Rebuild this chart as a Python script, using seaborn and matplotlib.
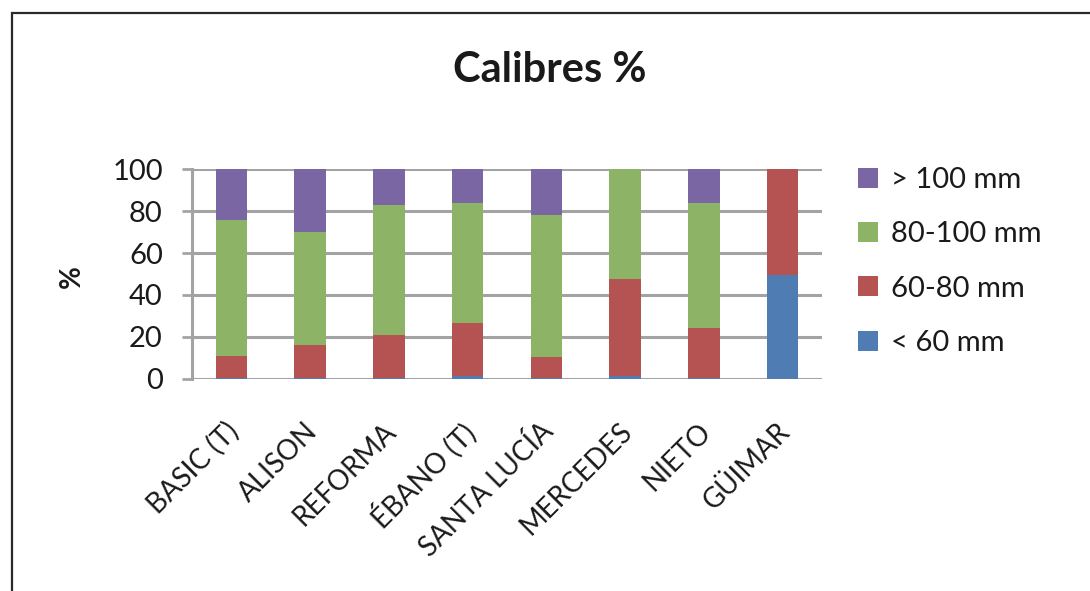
import matplotlib
matplotlib.use("Agg")
import matplotlib.pyplot as plt
import matplotlib.transforms as mtransforms
import seaborn as sns
import numpy as np
import pandas as pd
from matplotlib.patches import Rectangle, Patch

categories = ["BASIC (T)", "ALISON", "REFORMA", "ÉBANO (T)", "SANTA LUCÍA", "MERCEDES", "NIETO", "GÜIMAR"]
lt60 = [0.5, 0.3, 0.3, 1.5, 0.3, 1.5, 0.3, 49.5]
r60_80 = [10.5, 16.0, 20.7, 25.0, 10.0, 46.0, 24.0, 50.5]
r80_100 = [65.0, 53.7, 62.0, 57.5, 68.0, 52.5, 59.5, 0.0]
gt100 = [24.0, 30.0, 17.0, 16.0, 21.7, 0.0, 16.2, 0.0]
series_names = ["< 60 mm", "60-80 mm", "80-100 mm", "> 100 mm"]
colors = ["#4F7CB3", "#B55352", "#8DB366", "#7A66A2"]

sns.set_theme(style="white")
font = ["Lato", "DejaVu Sans"]
plt.rcParams["font.family"] = font

fig = plt.figure(figsize=(10.9, 5.91), dpi=100)
ax = fig.add_axes([192 / 1090, (591 - 378.7) / 591, 630 / 1090, (378.7 - 169.3) / 591])

series = [lt60, r60_80, r80_100, gt100]
cum = np.cumsum(np.array(series), axis=0)
for i in range(len(series) - 1, -1, -1):
    df = pd.DataFrame({"cat": categories, "val": cum[i]})
    sns.barplot(data=df, x="cat", y="val", order=categories, color=colors[i],
                width=0.40, saturation=1, ax=ax, linewidth=0, zorder=3)

ax.set_ylim(0, 100)
ax.set_xlim(-0.5, len(categories) - 0.5)
ax.set_yticks([0, 20, 40, 60, 80, 100])
ax.yaxis.grid(True, color="#A3A3A3", linewidth=2.2, zorder=0)
ax.set_axisbelow(True)
for s in ["top", "right", "bottom"]:
    ax.spines[s].set_visible(False)
ax.spines["left"].set_color("#A3A3A3")
ax.spines["left"].set_linewidth(2.2)
ax.tick_params(axis="y", which="both", left=True, length=7, width=2, color="#A3A3A3",
               labelsize=21, labelcolor="#1a1a1a", pad=14)
ax.tick_params(axis="x", bottom=False, labelsize=20, labelcolor="#1a1a1a", pad=29)
ax.set_xlabel("")
ax.set_ylabel("")
offset = mtransforms.ScaledTranslation(3 / 100, 0, fig.dpi_scale_trans)
for lab in ax.get_xticklabels():
    lab.set_rotation(45)
    lab.set_ha("right")
    lab.set_va("center")
    lab.set_rotation_mode("anchor")
    lab.set_transform(lab.get_transform() + offset)

fig.text(550 / 1090, (591 - 70) / 591, "Calibres %", ha="center", va="center",
         fontsize=30, fontweight="bold", color="#1a1a1a")
fig.text(72 / 1090, (591 - 277) / 591, "%", ha="center", va="center", rotation=90,
         fontsize=20, fontweight="bold", color="#1a1a1a")

handles = [Patch(facecolor=colors[i], edgecolor="none", label=series_names[i]) for i in range(3, -1, -1)]
fig.legend(handles=handles, loc="upper left", bbox_to_anchor=(858 / 1090, (591 - 167) / 591),
           frameon=False, fontsize=21, handlelength=0.69, handleheight=0.69, handletextpad=0.45,
           labelspacing=0.97, borderpad=0, borderaxespad=0, labelcolor="#1a1a1a")

fig.patches.append(Rectangle((11.5 / 1090, -0.1), 1.2, (591 - 13) / 591 + 0.1,
                             transform=fig.transFigure, fill=False, edgecolor="#2a2a2a",
                             linewidth=1.6, clip_on=False))

fig.savefig("out.png", dpi=100)
